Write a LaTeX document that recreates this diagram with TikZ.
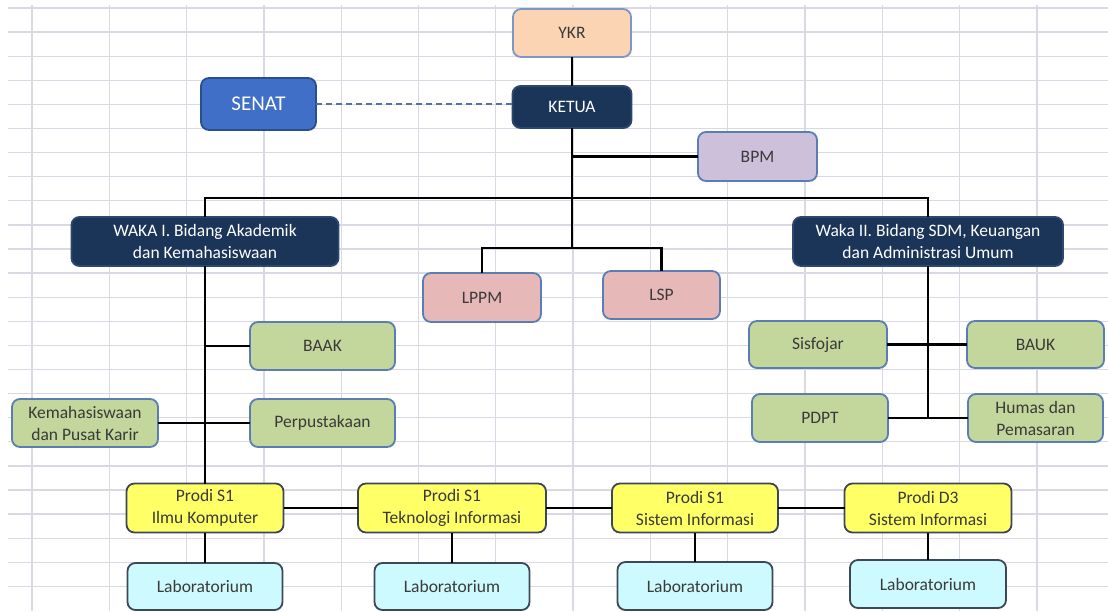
\documentclass[tikz,border=0pt]{standalone}
\usepackage{fontspec}
\setmainfont{Carlito}
\definecolor{gridc}{HTML}{D9D9E4}
\definecolor{navy}{HTML}{1B3558}
\definecolor{navyb}{HTML}{2C4770}
\definecolor{peach}{HTML}{FBD4B4}
\definecolor{senatf}{HTML}{3F6FC6}
\definecolor{senatb}{HTML}{2A4F8F}
\definecolor{lav}{HTML}{CCC0DA}
\definecolor{pinkf}{HTML}{E6B9B8}
\definecolor{greenf}{HTML}{C3D69B}
\definecolor{yellf}{HTML}{FFFF66}
\definecolor{cyanf}{HTML}{CCFAFF}
\definecolor{blueb}{HTML}{5B7DB5}
\definecolor{darkb}{HTML}{3C4858}
\definecolor{txt}{HTML}{3A3A3A}
\tikzset{
  box/.style={rounded corners=8pt, line width=1.8pt, draw=blueb, text=txt, align=center,
    inner sep=0pt, outer sep=0pt, font=\fontsize{17.5}{22}\selectfont},
  navybox/.style={box, fill=navy, draw=navyb, text=white},
  greenbox/.style={box, fill=greenf},
  pinkbox/.style={box, fill=pinkf},
  prodibox/.style={box, fill=yellf, draw=darkb},
  labbox/.style={box, fill=cyanf, draw=darkb},
  conn/.style={line width=2.6pt, black},
  gridline/.style={line width=1.3pt, gridc}
}
\begin{document}
\begin{tikzpicture}[x=1pt,y=-1pt]
\useasboundingbox (0,0) rectangle (1108,611);
\fill[white] (0,0) rectangle (1108,611);
% spreadsheet grid
\foreach \k in {0,...,24} { \draw[gridline] (8,8+24.1*\k) -- (1108,8+24.1*\k); }
\foreach \k in {0,...,13} { \draw[gridline] (32+77.3*\k,5) -- (32+77.3*\k,611); }
% nodes
\node[box, fill=peach, draw=blueb!80, minimum width=118pt, minimum height=48pt] (ykr) at (572,33) {YKR};
\node[navybox, minimum width=119pt, minimum height=42pt] (ketua) at (572,107) {KETUA};
\node[box, fill=senatf, draw=senatb, text=white, font=\fontsize{21}{25}\selectfont, minimum width=115pt, minimum height=52pt] (senat) at (258.5,104) {SENAT};
\node[box, fill=lav, minimum width=119pt, minimum height=49pt] (bpm) at (757.5,156.5) {BPM};
\node[navybox, minimum width=267pt, minimum height=49pt] (waka1) at (205,241.5) {WAKA I. Bidang Akademik\\dan Kemahasiswaan};
\node[navybox, minimum width=270pt, minimum height=49pt] (waka2) at (928,241.5) {Waka II. Bidang SDM, Keuangan\\dan Administrasi Umum};
\node[pinkbox, minimum width=118pt, minimum height=49pt] (lppm) at (482,297.5) {LPPM};
\node[pinkbox, minimum width=117pt, minimum height=48pt] (lsp) at (661.5,295) {LSP};
\node[greenbox, minimum width=145pt, minimum height=48pt] (baak) at (322.5,346) {BAAK};
\node[greenbox, minimum width=145pt, minimum height=48pt] (perpus) at (322.5,423) {Perpustakaan};
\node[greenbox, minimum width=146pt, minimum height=48pt] (kema) at (85,423) {Kemahasiswaan\\dan Pusat Karir};
\node[greenbox, minimum width=138pt, minimum height=47pt] (sisfojar) at (818,344.5) {Sisfojar};
\node[greenbox, minimum width=137pt, minimum height=47pt] (bauk) at (1035.5,344.5) {BAUK};
\node[greenbox, minimum width=136pt, minimum height=48pt] (pdpt) at (820,418) {PDPT};
\node[greenbox, minimum width=135pt, minimum height=48pt] (humas) at (1035.5,418) {Humas dan\\Pemasaran};
\node[prodibox, minimum width=157pt, minimum height=49pt] (pik) at (205,508) {Prodi S1\\Ilmu Komputer};
\node[prodibox, minimum width=188pt, minimum height=49pt] (pti) at (452,508) {Prodi S1\\Teknologi Informasi};
\node[prodibox, minimum width=166pt, minimum height=49pt] (psi) at (695,508) {Prodi S1\\Sistem Informasi};
\node[prodibox, minimum width=167pt, minimum height=49pt] (pd3) at (928,508) {Prodi D3\\Sistem Informasi};
\node[labbox, minimum width=155pt, minimum height=47pt] (lab1) at (205,586.5) {Laboratorium};
\node[labbox, minimum width=155pt, minimum height=47pt] (lab2) at (452,586.5) {Laboratorium};
\node[labbox, minimum width=155pt, minimum height=48pt] (lab3) at (695,586) {Laboratorium};
\node[labbox, minimum width=156pt, minimum height=48pt] (lab4) at (928,584) {Laboratorium};
% helper coordinates
\coordinate (bus) at (572,198);
\coordinate (lbus) at (572,248);
% connectors
\draw[conn] (ykr.south) -- (ketua.north);
\draw[line width=1.2pt, blueb!90!black, dash pattern=on 6pt off 4pt] (senat.east) -- (senat.east -| ketua.west);
\draw[conn] (ketua.south) -- (lbus);
\draw[conn] (ketua.south |- bpm.west) -- (bpm.west);
\draw[conn] (waka1.north) |- (bus) -| (waka2.north);
\draw[conn] (lppm.north) |- (lbus) -| (lsp.north);
\draw[conn] (waka1.south) -- (pik.north);
\draw[conn] (waka1.south |- baak.west) -- (baak.west);
\draw[conn] (kema.east) -- (perpus.west);
\draw[conn] (waka2.south) -- (waka2.south |- pdpt.east);
\draw[conn] (sisfojar.east) -- (bauk.west);
\draw[conn] (pdpt.east) -- (humas.west);
\draw[conn] (pik.east) -- (pti.west);
\draw[conn] (pti.east) -- (psi.west);
\draw[conn] (psi.east) -- (pd3.west);
\draw[conn] (pik.south) -- (lab1.north);
\draw[conn] (pti.south) -- (lab2.north);
\draw[conn] (psi.south) -- (lab3.north);
\draw[conn] (pd3.south) -- (lab4.north);
\end{tikzpicture}
\end{document}
